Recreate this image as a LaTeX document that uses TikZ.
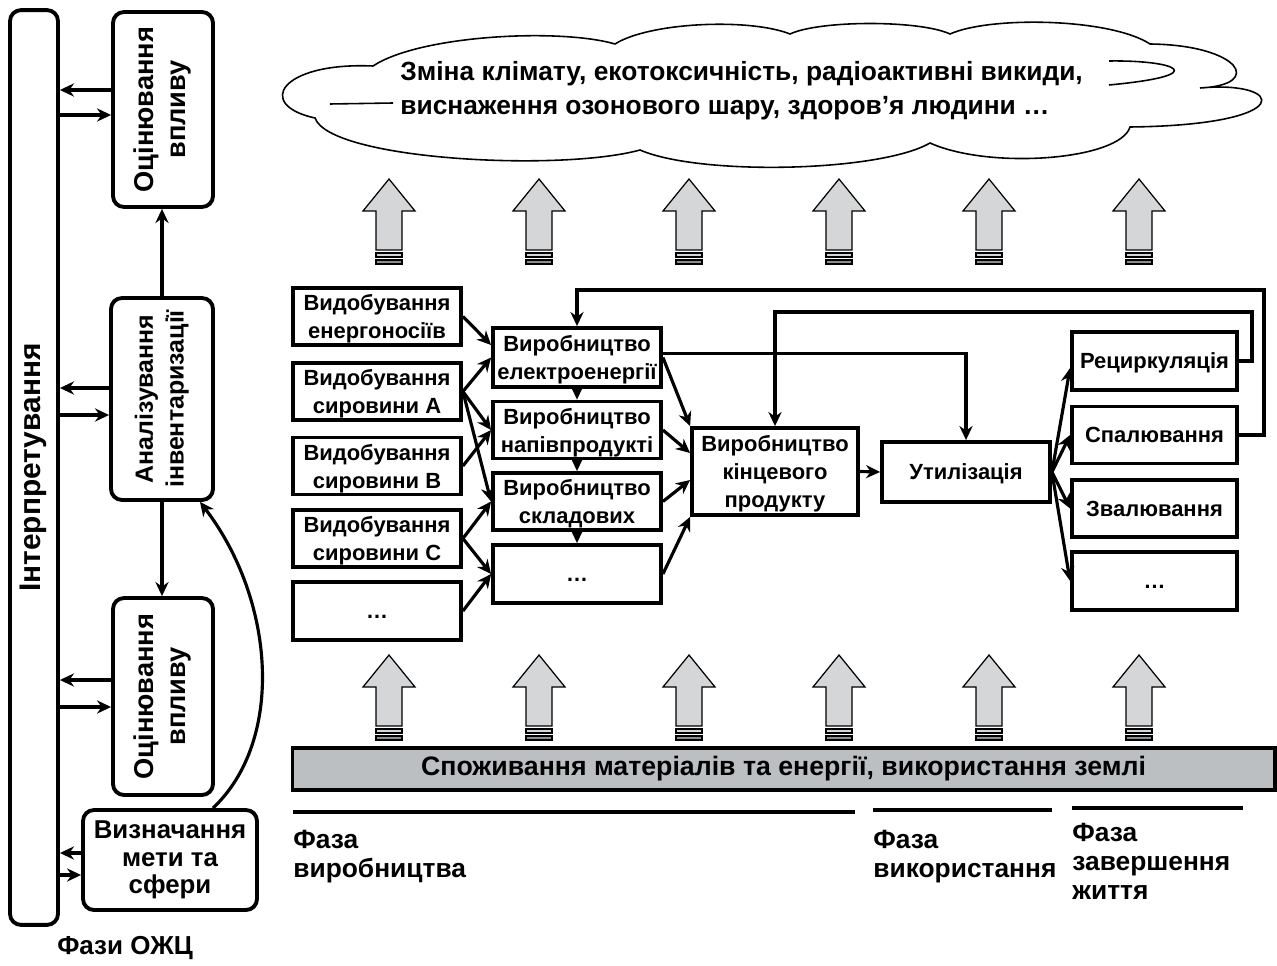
\documentclass[tikz,border=0pt]{standalone}
\usepackage{fontspec}
\setmainfont{Liberation Sans}
\usepackage{graphicx}
\usetikzlibrary{arrows.meta}

\definecolor{arrowgray}{HTML}{D4D6D8}
\definecolor{stripegray}{HTML}{8C8F91}
\definecolor{bandgray}{HTML}{BCBFC1}

\newcommand{\vtext}[1]{\rotatebox{90}{\begin{tabular}{@{}c@{}}#1\end{tabular}}}
\newcommand{\more}{\raisebox{-4pt}{…}}

\begin{document}
\begin{tikzpicture}[x=0.02cm, y=-0.02cm, >={Stealth[length=8pt,width=7.5pt]},
    box/.style={draw, line width=2.2pt, align=center, inner sep=1pt, minimum width=3.36cm, minimum height=1.14cm, font=\fontsize{12.5}{16}\selectfont\bfseries, text depth=-5pt},
    lbox/.style={draw, line width=2.2pt, rounded corners=0.22cm, align=center, inner sep=0pt, font=\fontsize{15.5}{18}\selectfont\bfseries},
    link/.style={->, line width=1.8pt},
    phase/.style={anchor=north west, align=left, inner sep=0pt, font=\fontsize{15}{16.5}\selectfont\bfseries}]

    \useasboundingbox (0,0) rectangle (1277,966);

    % left column
    \node [lbox, minimum width=0.96cm, minimum height=18.3cm, font=\fontsize{17}{18}\selectfont\bfseries] (interp) at (34,467.5) {\vtext{Інтерпретування}};
    \node [lbox, minimum width=2.0cm, minimum height=3.9cm] (oc1) at (163,109.5) {\vtext{Оцінювання\\впливу}};
    \node [lbox, minimum width=2.04cm, minimum height=4.04cm, font=\fontsize{14.2}{17.5}\selectfont\bfseries] (anal) at (162,399) {\vtext{Аналізування\\інвентаризації}};
    \node [lbox, minimum width=2.0cm, minimum height=3.94cm] (oc2) at (163,696.5) {\vtext{Оцінювання\\впливу}};
    \node [lbox, minimum width=3.48cm, minimum height=2.0cm, font=\fontsize{14.7}{15.6}\selectfont\bfseries] (goal) at (170,860) {Визначання\\мети та\\сфери};
    \node [font=\fontsize{14.8}{16}\selectfont\bfseries] (lcc) at (125,948) {Фази ОЖЦ};

    \draw[link] (oc1.west |- 0,90) -- (interp.east |- 0,90);
    \draw[link] (interp.east |- 0,115) -- (oc1.west |- 0,115);
    \draw[link] (anal.west |- 0,388) -- (interp.east |- 0,388);
    \draw[link] (interp.east |- 0,415) -- (anal.west |- 0,415);
    \draw[link] (oc2.west |- 0,680) -- (interp.east |- 0,680);
    \draw[link] (interp.east |- 0,707) -- (oc2.west |- 0,707);
    \draw[link] (goal.west |- 0,853) -- (interp.east |- 0,853);
    \draw[link] (interp.east |- 0,875) -- (goal.west |- 0,875);

    \draw[link] (anal.north) -- (anal.north |- oc1.south);
    \draw[link] (anal.south) -- (anal.south |- oc2.north);
    \draw[link] ([xshift=0.86cm]goal.north) .. controls (285,740) and (275,600) .. ([xshift=0.76cm]anal.south);

    % cloud
    \draw[line width=0.9pt, fill=white] (373,66) .. controls (420,35) and (560,28) .. (615,44)
        .. controls (650,22) and (750,18) .. (790,34)
        .. controls (820,20) and (920,20) .. (950,34)
        .. controls (990,16) and (1110,18) .. (1150,44)
        .. controls (1240,45) and (1265,85) .. (1200,88)
        .. controls (1285,80) and (1300,125) .. (1130,127)
        .. controls (1120,160) and (990,170) .. (930,143)
        .. controls (880,172) and (700,176) .. (640,150)
        .. controls (560,172) and (330,160) .. (315,118)
        .. controls (255,105) and (280,62) .. (373,66) -- cycle;
    \draw[line width=0.9pt] (330,104) -- (393,103);
    \draw[line width=0.9pt] (1109,61) .. controls (1175,60) and (1215,75) .. (1109,85);
    \node [anchor=west, align=left, inner sep=0pt, font=\fontsize{15}{19.5}\selectfont\bfseries] (impact) at (400,91)
        {Зміна клімату, екотоксичність, радіоактивні викиди,\\виснаження озонового шару, здоров’я людини …};

    % block arrows
    \foreach \ya in {0,476}
        \foreach \xa in {389,539,...,1139}
        {
            \begin{scope}[shift={(\xa,\ya)}]
                \draw[fill=arrowgray, line width=0.7pt] (0,179) -- (26,211) -- (13,211) -- (13,250) -- (-13,250) -- (-13,211) -- (-26,211) -- cycle;
                \draw[fill=arrowgray, line width=0.7pt] (-13,253) rectangle (13,257);
                \draw[fill=stripegray, line width=0.7pt] (-13,260) rectangle (13,264);
            \end{scope}
        }

    % production chain
    \node [box] (en) at (377,316.5) {Видобування\\енергоносіїв};
    \node [box] (rawA) at (377,391.5) {Видобування\\сировини А};
    \node [box] (rawB) at (377,466) {Видобування\\сировини В};
    \node [box] (rawC) at (377,538.5) {Видобування\\сировини С};
    \node [box, minimum height=1.16cm] (rawD) at (377,611) {\more};

    \node [box, minimum height=1.18cm] (el) at (577,357.5) {Виробництво\\електроенергії};
    \node [box] (semi) at (577,430) {Виробництво\\напівпродукті};
    \node [box] (comp) at (577,501.5) {Виробництво\\складових};
    \node [box, minimum height=1.16cm] (prD) at (577,574) {\more};

    \node [box, minimum width=3.32cm, minimum height=1.74cm] (fin) at (775,471.5) {Виробництво\\кінцевого\\продукту};
    \node [box, minimum height=1.2cm] (util) at (966,472) {Утилізація};

    \node [box, minimum width=3.3cm, minimum height=1.16cm] (rec) at (1154.5,361) {Рециркуляція};
    \node [box, minimum width=3.3cm] (burn) at (1154.5,435) {Спалювання};
    \node [box, minimum width=3.3cm] (land) at (1154.5,508.5) {Звалювання};
    \node [box, minimum width=3.3cm, minimum height=1.16cm] (endD) at (1154.5,581) {\more};

    \draw[link] (en.east) -- ([yshift=0.25cm]el.west);
    \draw[link] (rawA.east) -- (el.west);
    \draw[link] (rawA.east) -- (semi.west);
    \draw[link] (rawA.east) -- (comp.west);
    \draw[link] (rawB.east) -- (semi.west);
    \draw[link] (rawC.east) -- (comp.west);
    \draw[link] (rawC.east) -- (prD.west);
    \draw[link] (rawD.east) -- (prD.west);

    \draw[link] (el.south) -- (semi.north);
    \draw[link] (semi.south) -- (comp.north);
    \draw[link] (comp.south) -- (prD.north);

    \draw[link] (el.east) -- (fin.north west);
    \draw[link] (semi.east) -- ([yshift=0.37cm]fin.west);
    \draw[link] (comp.east) -- ([yshift=-0.17cm]fin.west);
    \draw[link] (prD.east) -- (fin.south west);

    \draw[link] ([yshift=0.08cm]el.east) -| (util.north);
    \draw[link] (fin.east) -- (util.west);

    \draw[link] (util.east) -- ([yshift=-0.14cm]rec.west);
    \draw[link] (util.east) -- (burn.west);
    \draw[link] (util.east) -- (land.west);
    \draw[link] (util.east) -- (endD.west);

    \draw[link] (rec.east) -| (1252,312) -| (fin.north);
    \draw[link] (burn.east) -| (1264,290) -| (el.north);

    % consumption band and phases
    \node [draw, line width=1.8pt, fill=bandgray, minimum width=19.66cm, minimum height=0.84cm, font=\fontsize{15.2}{16}\selectfont\bfseries] (band) at (783.5,769) {Споживання матеріалів та енергії, використання землі};

    \draw[line width=2.2pt] (293,812) -- (855,812);
    \draw[line width=2.2pt] (873,810) -- (1052,810);
    \draw[line width=2.2pt] (1072,808) -- (1243,808);

    \node [phase] (ph1) at (293,830) {Фаза\\виробництва};
    \node [phase] (ph2) at (873,830) {Фаза\\використання};
    \node [phase] (ph3) at (1072,823) {Фаза\\завершення\\життя};

\end{tikzpicture}
\end{document}
